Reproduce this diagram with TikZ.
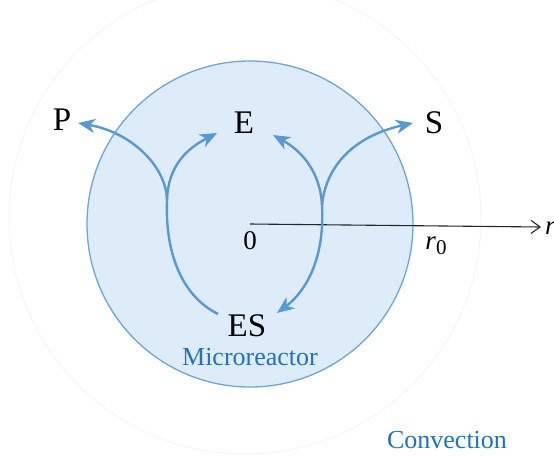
\documentclass[tikz,border=0pt]{standalone}
\usepackage{fontspec}
\setmainfont{Liberation Serif}
\usepackage{xcolor}
\usepackage{tikz}
\usetikzlibrary{arrows.meta}
\definecolor{flowblue}{RGB}{88,153,213}
\definecolor{rimblue}{RGB}{110,165,215}
\definecolor{dotblue}{RGB}{222,235,248}
\definecolor{txtblue}{RGB}{30,115,192}
\tikzset{
  species/.style={font=\fontsize{33}{36}\selectfont, inner sep=0pt},
  axlbl/.style={font=\fontsize{27}{30}\selectfont, inner sep=0pt},
  region/.style={font=\fontsize{26}{29}\selectfont, text=txtblue, inner sep=0pt},
  flow/.style={line width=2.4pt, flowblue},
  flowtip/.style={flow, -{Stealth[length=17pt, width=14pt, inset=5pt]}},
  axis/.style={line width=1.1pt, black!85, -{Straight Barb[length=9pt, width=13pt, line width=1.1pt]}},
}

\begin{document}
\begin{tikzpicture}[x=1pt, y=-1pt]
  \useasboundingbox (0,0) rectangle (554,456);
  % convection zone (faint) and microreactor
  \draw[black!4, line width=1pt] (245,218) circle (236);
  \draw[rimblue, fill=dotblue, line width=1.3pt] (250,224) circle (163);
  % radial axis
  \coordinate (o) at (250,224);
  \coordinate (rend) at (541,227);
  \draw[axis] (o) -- (rend);
  \node[axlbl] (zero) at (250,241) {0};
  \node[axlbl] (rzero) at (436,246) {\textit{r}\raisebox{-5pt}{\fontsize{21}{21}\selectfont 0}};
  \node[axlbl, anchor=west] (rlbl) at (545,228) {\textit{r}};
  % species
  \node[species] (P) at (62,120) {P};
  \node[species] (E) at (244,123) {E};
  \node[species] (S) at (434,123) {S};
  \node[species] (ES) at (247,326) {ES};
  % branch points and free ends of the cycle
  \coordinate (jl) at (167,200);
  \coordinate (jr) at (322,205);
  \coordinate (esl) at (218,314);
  \coordinate (esr) at (277,313);
  \coordinate (pend) at (78,123);
  \coordinate (eleft) at (217,133);
  \coordinate (eright) at (273,135);
  \coordinate (send) at (413,123);
  % left half: ES -> E + P
  \draw[flow] (esl) .. controls (180,295) and (165,250) .. (jl);
  \draw[flowtip] (jl) .. controls (166,165) and (130,132) .. (pend);
  \draw[flowtip] (jl) .. controls (168,165) and (188,148) .. (eleft);
  % right half: E + S -> ES
  \draw[flowtip] (jr) .. controls (320,170) and (300,150) .. (eright);
  \draw[flowtip] (jr) .. controls (326,165) and (355,136) .. (send);
  \draw[flowtip] (jr) .. controls (325,260) and (305,292) .. (esr);
  % regions
  \node[region] (micro) at (250,357) {Microreactor};
  \node[region] (conv) at (447,440) {Convection};
\end{tikzpicture}
\end{document}
